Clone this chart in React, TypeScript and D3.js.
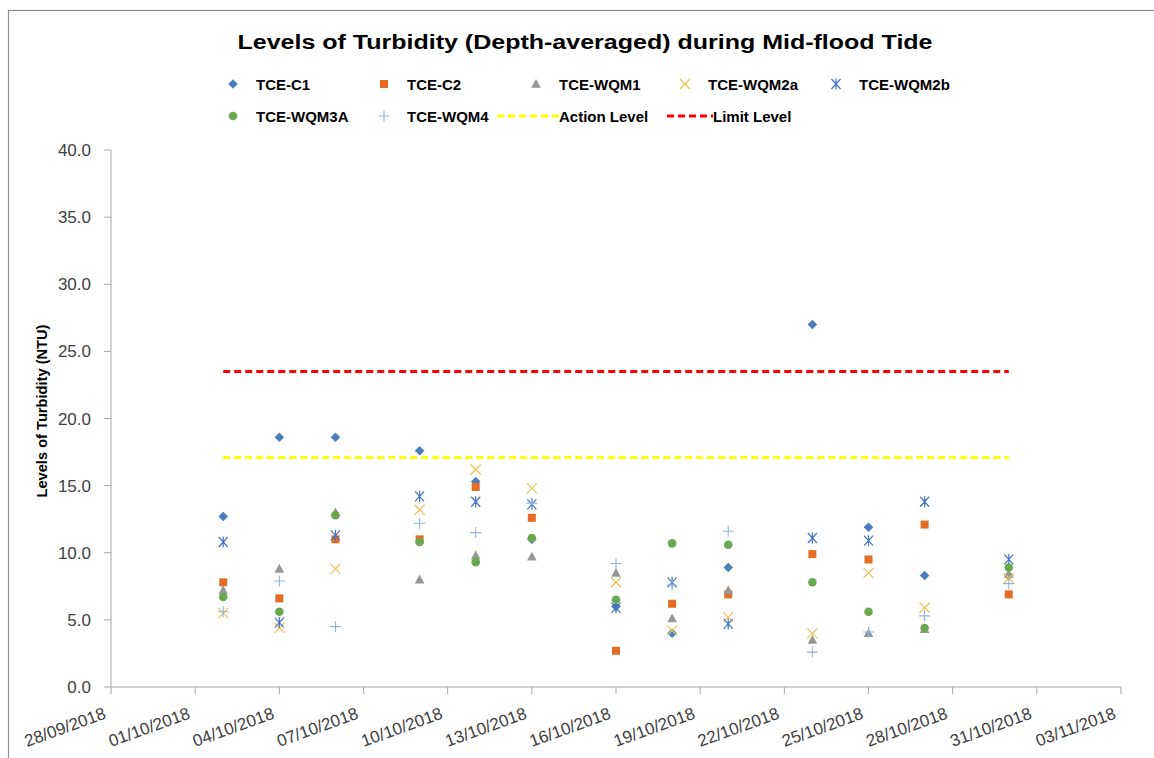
import * as d3 from 'd3';

// sampling dates
const dates = [
  '2018-10-02', '2018-10-04', '2018-10-06', '2018-10-09', '2018-10-11', '2018-10-13',
  '2018-10-16', '2018-10-18', '2018-10-20', '2018-10-23', '2018-10-25', '2018-10-27', '2018-10-30',
];

// depth-averaged turbidity (NTU) per station
const c1 = [12.7, 18.6, 18.6, 17.6, 15.3, 11.0, 6.0, 4.0, 8.9, 27.0, 11.9, 8.3, 8.3];
const c2 = [7.8, 6.6, 11.0, 11.0, 14.9, 12.6, 2.7, 6.2, 6.9, 9.9, 9.5, 12.1, 6.9];
const wqm1 = [7.2, 8.8, 13.0, 8.0, 9.8, 9.7, 8.5, 5.1, 7.2, 3.5, 4.0, 4.3, 8.4];
const wqm2a = [5.5, 4.4, 8.8, 13.2, 16.2, 14.8, 7.8, 4.2, 5.2, 4.0, 8.5, 5.9, 8.1];
const wqm2b = [10.8, 4.8, 11.3, 14.2, 13.8, 13.6, 5.9, 7.8, 4.7, 11.1, 10.9, 13.8, 9.5];
const wqm3a = [6.7, 5.6, 12.8, 10.8, 9.3, 11.1, 6.5, 10.7, 10.6, 7.8, 5.6, 4.4, 8.9];
const wqm4 = [5.6, 7.9, 4.5, 12.2, 11.5, 13.7, 9.2, 7.6, 11.6, 2.6, 4.1, 5.3, 7.7];

const actionLevel = 17.1;
const limitLevel = 23.5;
const levelDates = ['2018-10-02', '2018-10-30'];

const xTicks = [
  '2018-09-28', '2018-10-01', '2018-10-04', '2018-10-07', '2018-10-10', '2018-10-13', '2018-10-16',
  '2018-10-19', '2018-10-22', '2018-10-25', '2018-10-28', '2018-10-31', '2018-11-03',
];
const yTicks = [0, 5, 10, 15, 20, 25, 30, 35, 40];

type Shape = 'diamond' | 'square' | 'triangle' | 'x' | 'star' | 'circle' | 'plus';

const series: { name: string; values: number[]; shape: Shape; color: string }[] = [
  { name: 'TCE-C1', values: c1, shape: 'diamond', color: '#4a7ebb' },
  { name: 'TCE-C2', values: c2, shape: 'square', color: '#e46c24' },
  { name: 'TCE-WQM1', values: wqm1, shape: 'triangle', color: '#979797' },
  { name: 'TCE-WQM2a', values: wqm2a, shape: 'x', color: '#f0c050' },
  { name: 'TCE-WQM2b', values: wqm2b, shape: 'star', color: '#4472c4' },
  { name: 'TCE-WQM3A', values: wqm3a, shape: 'circle', color: '#6aa84f' },
  { name: 'TCE-WQM4', values: wqm4, shape: 'plus', color: '#8fb4dc' },
];

const parse = d3.timeParse('%Y-%m-%d');
const fmt = d3.timeFormat('%d/%m/%Y');
const font = '"Liberation Sans", Arial, sans-serif';

const Marker = ({ shape, color, x, y }: { shape: Shape; color: string; x: number; y: number }) => {
  const t = `translate(${x},${y})`;
  if (shape === 'diamond') return <path transform={t} d="M0,-4.8L4.8,0L0,4.8L-4.8,0Z" fill={color} />;
  if (shape === 'square') return <rect transform={t} x={-4} y={-4} width={8} height={8} fill={color} />;
  if (shape === 'triangle') return <path transform={t} d="M0,-5L4.8,3.8L-4.8,3.8Z" fill={color} />;
  if (shape === 'circle') return <circle transform={t} r={4.3} fill={color} />;
  if (shape === 'x')
    return <path transform={t} d="M-5,-5L5,5M-5,5L5,-5" stroke={color} strokeWidth={1.2} fill="none" />;
  if (shape === 'star')
    return <path transform={t} d="M-4.5,-5L4.5,5M-4.5,5L4.5,-5M0,-5.5L0,5.5" stroke={color} strokeWidth={1.2} fill="none" />;
  return <path transform={t} d="M-5.5,0L5.5,0M0,-5.5L0,5.5" stroke={color} strokeWidth={1.1} fill="none" />;
};

const App = () => {
  const width = 1154;
  const height = 758;
  const x = d3
    .scaleTime()
    .domain([parse('2018-09-28')!, parse('2018-11-03')!])
    .range([111, 1121]);
  const y = d3.scaleLinear().domain([0, 40]).range([687, 150]);
  const axisColor = '#a6a6a6';

  const levelLine = (v: number) =>
    d3.line<string>()
      .x((d) => x(parse(d)!))
      .y(() => y(v))(levelDates)!;

  const legendRow1 = [233, 384, 536, 685, 836];

  return (
    <div style={{ position: 'absolute', left: 0, top: 0 }}>
      <svg width={width} height={height} style={{ display: 'block', background: '#fff' }}>
        <rect x={8.5} y={10.5} width={1160} height={760} fill="#fff" stroke="#8c8c8c" strokeWidth={1.2} />

        <text
          x={585}
          y={49}
          textAnchor="middle"
          fontFamily={font}
          fontWeight="bold"
          fontSize={20}
          textLength={695}
          lengthAdjust="spacingAndGlyphs"
          fill="#000"
        >
          Levels of Turbidity (Depth-averaged) during Mid-flood Tide
        </text>

        {/* legend */}
        <g fontFamily={font} fontWeight="bold" fontSize={15} fill="#000">
          {series.slice(0, 5).map((s, i) => (
            <g key={s.name}>
              <Marker shape={s.shape} color={s.color} x={legendRow1[i]} y={84} />
              <text x={legendRow1[i] + 23} y={89.5}>{s.name}</text>
            </g>
          ))}
          {series.slice(5).map((s, i) => (
            <g key={s.name}>
              <Marker shape={s.shape} color={s.color} x={legendRow1[i]} y={116} />
              <text x={legendRow1[i] + 23} y={121.5}>{s.name}</text>
            </g>
          ))}
          <line x1={497} x2={559} y1={116} y2={116} stroke="#ffff00" strokeWidth={3} strokeDasharray="7,4" />
          <text x={559} y={121.5}>Action Level</text>
          <line x1={667} x2={713} y1={116} y2={116} stroke="#ff0000" strokeWidth={3} strokeDasharray="7,4" />
          <text x={713} y={121.5}>Limit Level</text>
        </g>

        {/* axes */}
        <line x1={111} x2={111} y1={150} y2={687} stroke={axisColor} />
        <line x1={111} x2={1121} y1={687} y2={687} stroke={axisColor} />
        {yTicks.map((t) => (
          <g key={t}>
            <line x1={104} x2={111} y1={y(t)} y2={y(t)} stroke={axisColor} />
            <text
              x={91}
              y={y(t)}
              dy="0.36em"
              textAnchor="end"
              fontFamily={font}
              fontSize={17}
              fill="#404040"
            >
              {t.toFixed(1)}
            </text>
          </g>
        ))}
        {xTicks.map((t) => {
          const px = x(parse(t)!);
          return (
            <g key={t}>
              <line x1={px} x2={px} y1={687} y2={694} stroke={axisColor} />
              <text
                transform={`translate(${px - 4},718) rotate(-20)`}
                textAnchor="end"
                fontFamily={font}
                fontSize={17}
                fill="#404040"
              >
                {fmt(parse(t)!)}
              </text>
            </g>
          );
        })}
        <text
          transform="translate(47,411) rotate(-90)"
          textAnchor="middle"
          fontFamily={font}
          fontWeight="bold"
          fontSize={14}
          textLength={173}
          lengthAdjust="spacingAndGlyphs"
          fill="#000"
        >
          Levels of Turbidity (NTU)
        </text>

        {/* level lines */}
        <path d={levelLine(actionLevel)} stroke="#ffff00" strokeWidth={3} strokeDasharray="7,4" fill="none" />
        <path d={levelLine(limitLevel)} stroke="#ff0000" strokeWidth={3} strokeDasharray="7,4" fill="none" />

        {/* points */}
        {series.map((s) => (
          <g key={s.name}>
            {s.values.map((v, i) => (
              <Marker key={i} shape={s.shape} color={s.color} x={x(parse(dates[i])!)} y={y(v)} />
            ))}
          </g>
        ))}
      </svg>
    </div>
  );
};

export default App;
